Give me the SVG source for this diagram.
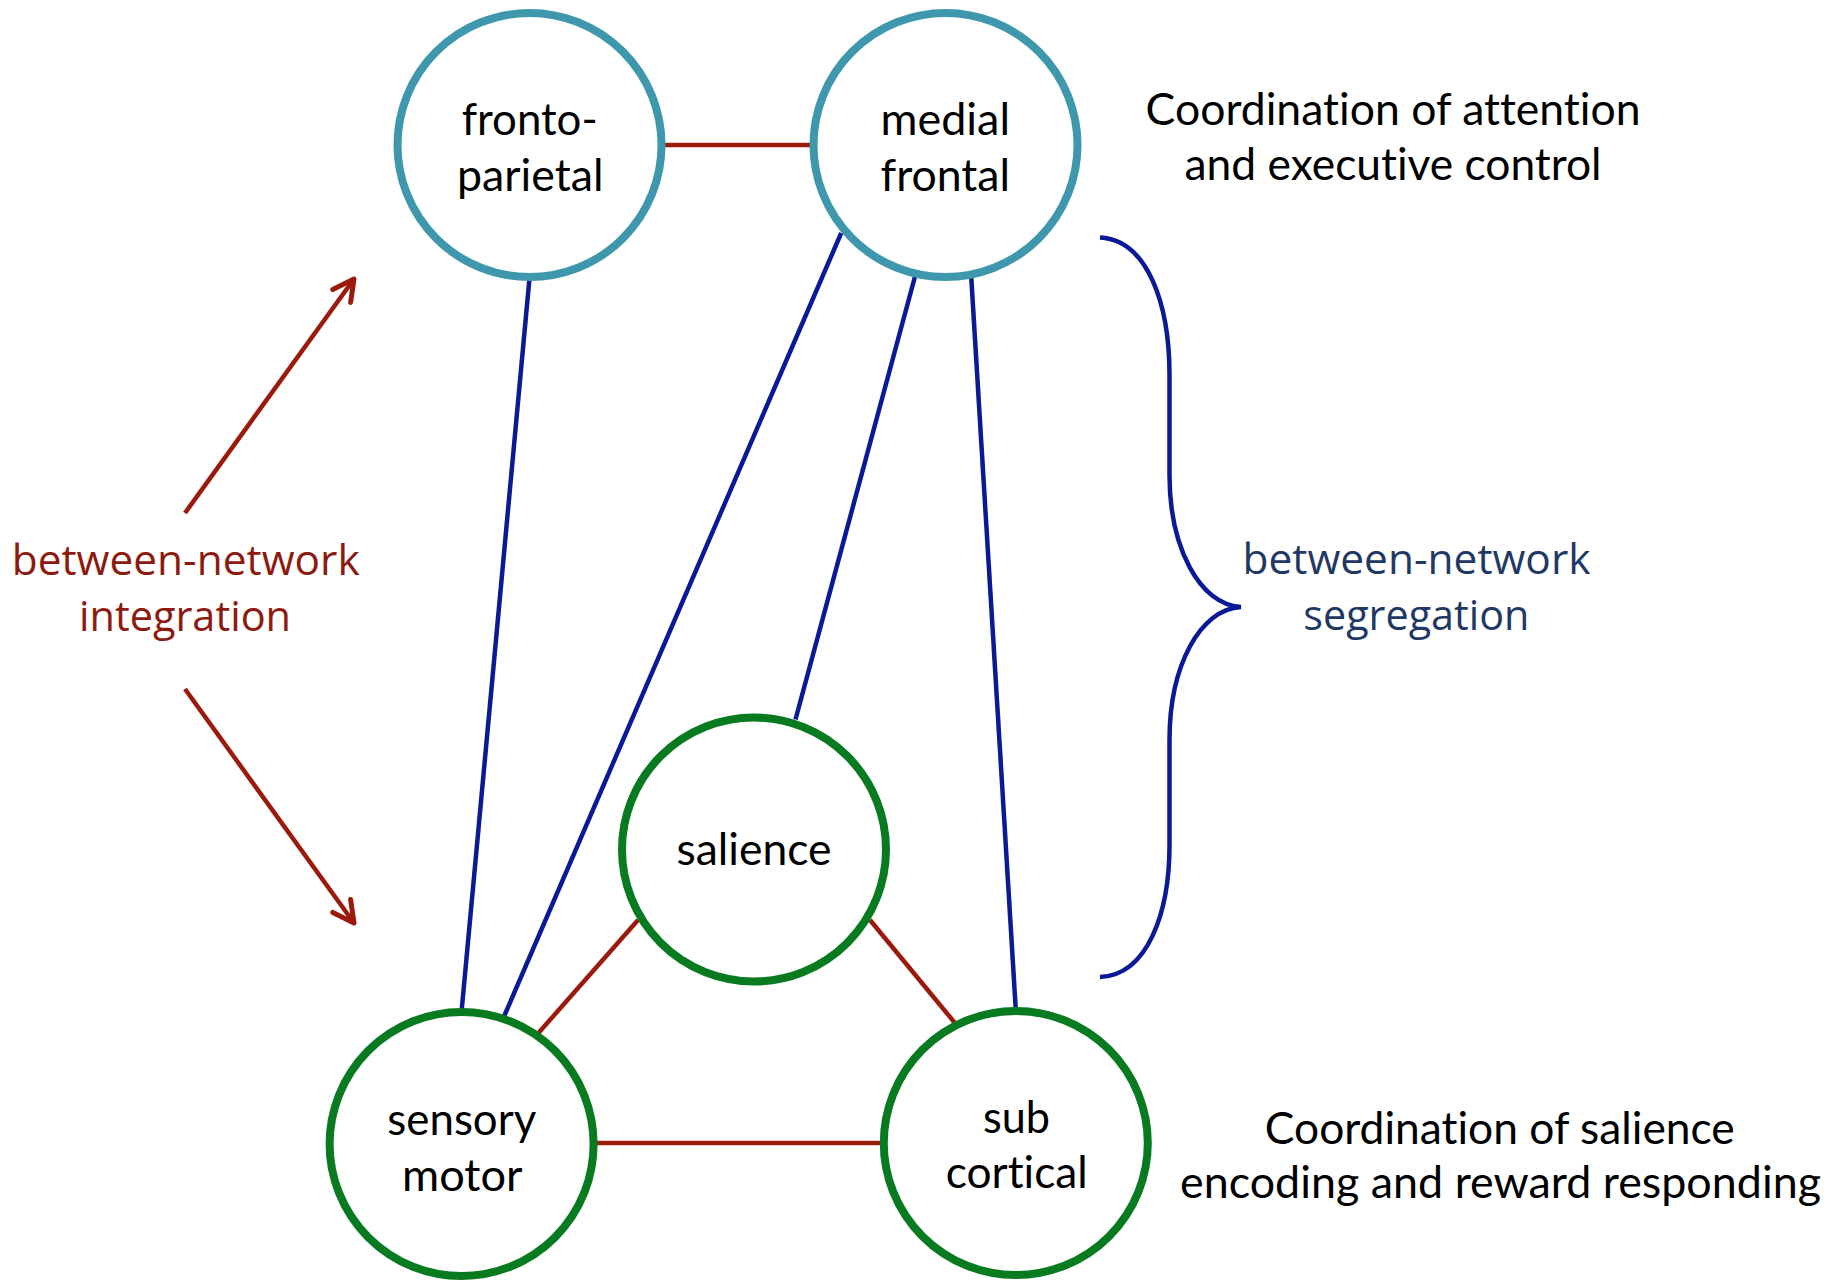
<svg xmlns="http://www.w3.org/2000/svg" width="1837" height="1281" viewBox="0 0 1837 1281">
<style>
.node-teal{fill:#fff;stroke:#3E97AD;stroke-width:8}
.node-green{fill:#fff;stroke:#087A20;stroke-width:8}
.red{stroke:#9A1A0C;stroke-width:4.5;fill:none}
.blue{stroke:#0A1A96;stroke-width:4.5;fill:none}
.lbl{font-family:Lato,"Liberation Sans",sans-serif;font-size:44px;fill:#000;font-variant-ligatures:none;font-feature-settings:"liga" 0,"clig" 0,"dlig" 0,"calt" 0}
.side{font-family:"Open Sans","Noto Sans",sans-serif;font-size:42px}
</style>
<defs>
<marker id="chev" markerUnits="userSpaceOnUse" viewBox="-26 -15 30 30" refX="0" refY="0" markerWidth="30" markerHeight="30" orient="auto">
<path d="M-21,-11 L0,0 L-21,11" fill="none" stroke="#9A1A0C" stroke-width="5" stroke-linecap="round" stroke-linejoin="round"/>
</marker>
</defs>
<rect width="1837" height="1281" fill="#fff"/>
<g id="connectors">
<line class="red" x1="661" y1="145" x2="813" y2="145" stroke-width="5.5"/>
<line class="red" x1="597" y1="1143" x2="881" y2="1143" stroke-width="5.5"/>
<line class="red" x1="638" y1="920" x2="538" y2="1033.5"/>
<line class="red" x1="870" y1="920" x2="954.5" y2="1022.5"/>
<line class="blue" x1="529.6" y1="277" x2="461.6" y2="1011"/>
<line class="blue" x1="841.2" y1="233" x2="503.8" y2="1017"/>
<line class="blue" x1="915" y1="276.5" x2="795.5" y2="719.5"/>
<line class="blue" x1="971.2" y1="276.5" x2="1015.8" y2="1010"/>
<line class="red" x1="185" y1="513" x2="354" y2="279" stroke-width="5" marker-end="url(#chev)"/>
<line class="red" x1="185" y1="689" x2="354" y2="923" stroke-width="5" marker-end="url(#chev)"/>
<path class="blue" d="M1100,237.5 C1148,240 1169.5,305 1169.5,375 L1169.5,475 C1169.5,548 1200,605 1241,607 C1200,609 1169.5,666 1169.5,740 L1169.5,845 C1169.5,912 1148,975 1100,977"/>
</g>
<g id="fronto-parietal">
<circle class="node-teal" cx="529.5" cy="145" r="132"/>
<text class="lbl" x="461.7" y="135" textLength="136" lengthAdjust="spacingAndGlyphs">fronto-</text>
<text class="lbl" x="457" y="190.7" textLength="146.5" lengthAdjust="spacingAndGlyphs">parietal</text>
</g>
<g id="medial-frontal">
<circle class="node-teal" cx="945.5" cy="145" r="132"/>
<text class="lbl" x="880.5" y="135" textLength="129.5" lengthAdjust="spacingAndGlyphs">medial</text>
<text class="lbl" x="880.5" y="190.7" textLength="129.5" lengthAdjust="spacingAndGlyphs">frontal</text>
</g>
<g id="salience">
<circle class="node-green" cx="754" cy="849.5" r="132"/>
<text class="lbl" x="676.5" y="865" textLength="155" lengthAdjust="spacingAndGlyphs">salience</text>
</g>
<g id="sensory-motor">
<circle class="node-green" cx="461.6" cy="1144" r="132"/>
<text class="lbl" x="387.3" y="1135" textLength="149" lengthAdjust="spacingAndGlyphs">sensory</text>
<text class="lbl" x="402" y="1190.7" textLength="120.5" lengthAdjust="spacingAndGlyphs">motor</text>
</g>
<g id="sub-cortical">
<circle class="node-green" cx="1015.8" cy="1143" r="132"/>
<text class="lbl" x="983" y="1132.7" textLength="67" lengthAdjust="spacingAndGlyphs">sub</text>
<text class="lbl" x="945.8" y="1188.3" textLength="142" lengthAdjust="spacingAndGlyphs">cortical</text>
</g>
<g id="labels">
<text class="lbl" x="1145.6" y="125" textLength="495" lengthAdjust="spacingAndGlyphs">Coordination of attention</text>
<text class="lbl" x="1184.6" y="180" textLength="417" lengthAdjust="spacingAndGlyphs">and executive control</text>
<text class="lbl" x="1264.8" y="1144" textLength="470" lengthAdjust="spacingAndGlyphs">Coordination of salience</text>
<text class="lbl" x="1180" y="1198.3" textLength="641" lengthAdjust="spacingAndGlyphs">encoding and reward responding</text>
<text class="side" fill="#8C1A10" x="11.7" y="574.5" textLength="348" lengthAdjust="spacingAndGlyphs">between-network</text>
<text class="side" fill="#8C1A10" x="79" y="630.5" textLength="212" lengthAdjust="spacingAndGlyphs">integration</text>
<text class="side" fill="#1F3864" x="1242.5" y="574" textLength="348" lengthAdjust="spacingAndGlyphs">between-network</text>
<text class="side" fill="#1F3864" x="1303.3" y="629.5" textLength="226" lengthAdjust="spacingAndGlyphs">segregation</text>
</g>
</svg>
